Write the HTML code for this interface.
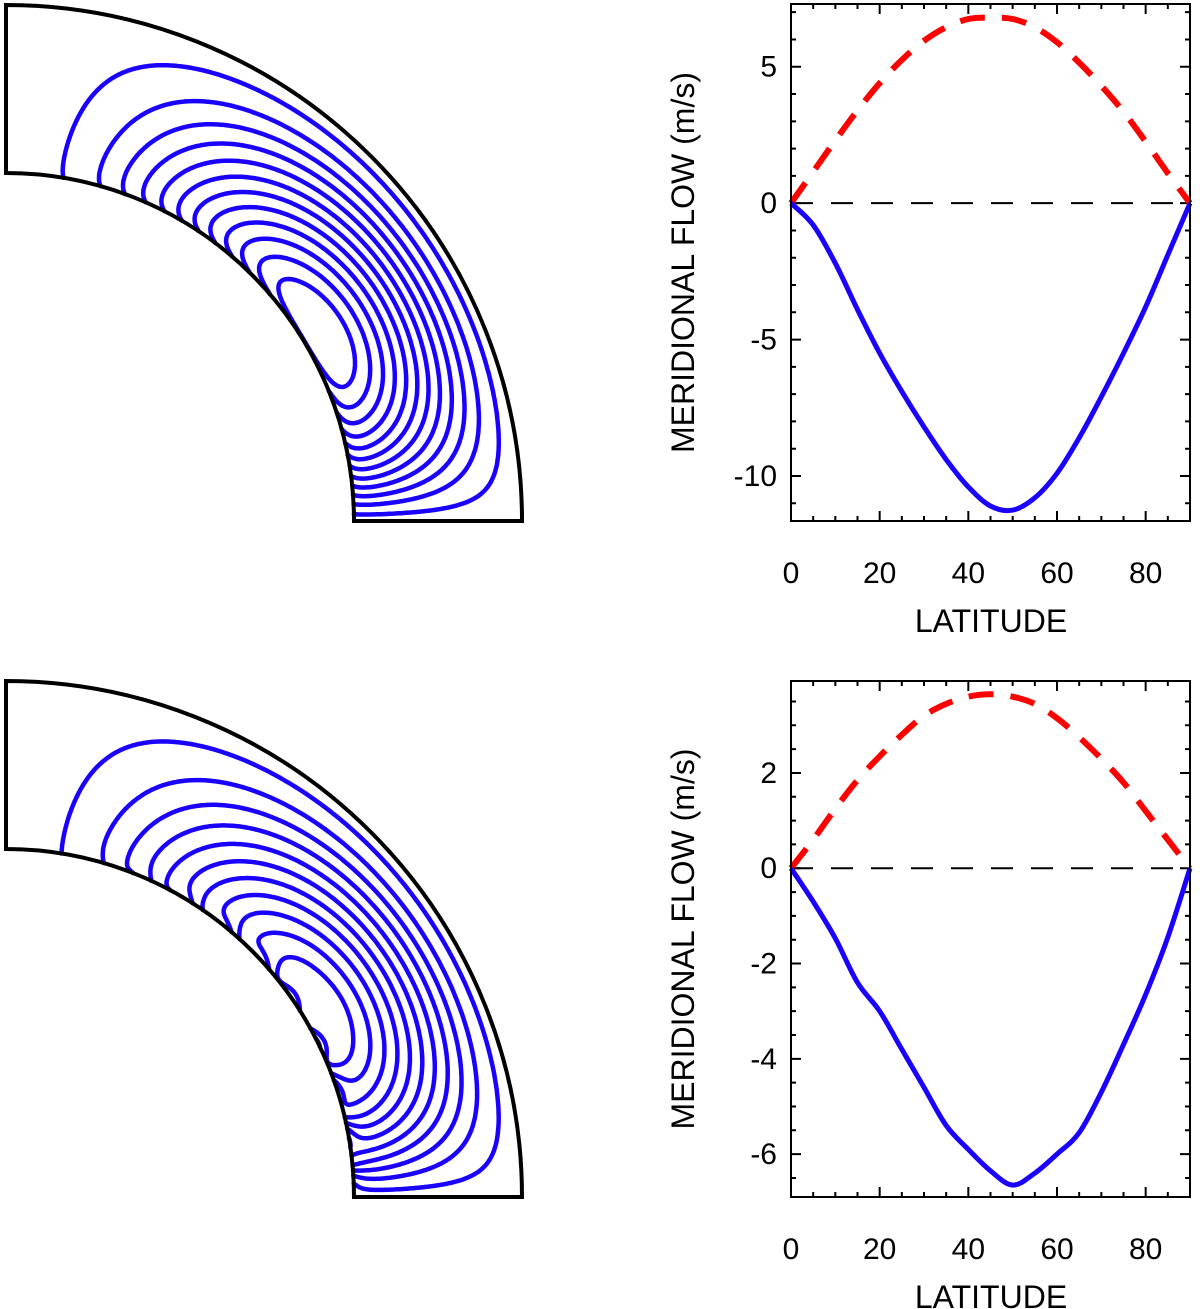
<!DOCTYPE html>
<html><head><meta charset="utf-8"><style>
html,body{margin:0;padding:0;background:#fff;}
svg{display:block;font-family:"Liberation Sans",Arial,sans-serif;}
</style></head><body>
<svg id="fig" width="1200" height="1309" viewBox="0 0 1200 1309" xmlns="http://www.w3.org/2000/svg">
<g id="g-top-cont"></g>
<g id="g-bot-cont"></g>
<g id="g-top-plot"></g>
<g id="g-bot-plot"></g>
</svg>
<script>
// ---- chart data ----
const latitudes = [0,5,10,15,20,25,30,35,40,45,50,55,60,65,70,75,80,85,90];
const topSurface = [0,1.15,2.3,3.4,4.4,5.25,5.95,6.45,6.75,6.8,6.75,6.45,5.9,5.15,4.3,3.35,2.25,1.1,0];
const topDeep = [0,-0.8,-2.2,-3.9,-5.5,-6.9,-8.2,-9.4,-10.4,-11.1,-11.25,-10.8,-9.9,-8.6,-7.1,-5.5,-3.8,-1.9,0];
const botSurface = [0,0.6,1.25,1.85,2.35,2.8,3.2,3.45,3.6,3.65,3.6,3.45,3.15,2.75,2.3,1.8,1.2,0.6,0];
const botDeep = [0,-0.7,-1.47,-2.4,-3.0,-3.8,-4.6,-5.4,-5.9,-6.35,-6.65,-6.4,-6.0,-5.55,-4.7,-3.7,-2.65,-1.45,0];
const xTicks = [0,20,40,60,80];
const topYTicks = [5,0,-5,-10];
const botYTicks = [2,0,-2,-4,-6];

const NS='http://www.w3.org/2000/svg';
function mk(tag, attrs, parent){const e=document.createElementNS(NS,tag);for(const k in attrs)e.setAttribute(k,attrs[k]);parent.appendChild(e);return e;}

function drawPlot(g, y0px, y1px, ymin, ymax, majorY, minorY, yTicks, surf, deep){
  const x0=791, x1=1190;
  const X=v=>x0+(v-0)/(90-0)*(x1-x0);
  const Y=v=>y1px-(v-ymin)/(ymax-ymin)*(y1px-y0px);
  let t='';
  for(let v=0;v<=90;v+=5){const L=(v%20===0)?10:5;const px=X(v);t+=`M${px},${y1px}v${-L}M${px},${y0px}v${L}`;}
  const start=Math.ceil(ymin/minorY)*minorY;
  for(let v=start;v<=ymax+1e-9;v+=minorY){const isMaj=Math.abs(v/majorY-Math.round(v/majorY))<1e-6;const L=isMaj?10:5;const py=Y(v);t+=`M${x0},${py}h${L}M${x1},${py}h${-L}`;}
  const ticks=mk('path',{d:t,stroke:'#000','stroke-width':2,fill:'none'},g);
  
  
  const z=mk('line',{x1:x0,x2:x1,y1:Y(0),y2:Y(0),stroke:'#000','stroke-width':2,'stroke-dasharray':'22,18'},g);
  
  
  const smooth=arr=>{let d='M'+X(latitudes[0])+','+Y(arr[0]);for(let i=0;i<latitudes.length-1;i++){const a=Math.max(i-1,0),b=Math.min(i+2,latitudes.length-1);const p0=[X(latitudes[a]),Y(arr[a])],p1=[X(latitudes[i]),Y(arr[i])],p2=[X(latitudes[i+1]),Y(arr[i+1])],p3=[X(latitudes[b]),Y(arr[b])];d+=`C${(p1[0]+(p2[0]-p0[0])/6).toFixed(1)},${(p1[1]+(p2[1]-p0[1])/6).toFixed(1)} ${(p2[0]-(p3[0]-p1[0])/6).toFixed(1)},${(p2[1]-(p3[1]-p1[1])/6).toFixed(1)} ${p2[0].toFixed(1)},${p2[1].toFixed(1)}`;}return d;};
  const s=mk('path',{d:smooth(surf),stroke:'#ff0000','stroke-width':6,fill:'none','stroke-dasharray':'25,17'},g);
  
  
  const d=mk('path',{d:smooth(deep),stroke:'#1a00ff','stroke-width':5,fill:'none'},g);
  
  
  const f=mk('rect',{x:x0,y:y0px,width:x1-x0,height:y1px-y0px,fill:'none',stroke:'#000','stroke-width':2},g);
  
  
  xTicks.forEach(v=>{const e=mk('text',{x:X(v),y:y1px+62,'font-size':30,'text-anchor':'middle'},g);e.textContent=v;
    
    });
  yTicks.forEach(v=>{const e=mk('text',{x:777,y:Y(v)+10,'font-size':30,'text-anchor':'end'},g);e.textContent=v;
    
    });
  const xt=mk('text',{x:991,y:y1px+111,'font-size':32,'text-anchor':'middle'},g);xt.textContent='LATITUDE';
  
  
  const cyT=(y0px+y1px)/2;
  const yt=mk('text',{x:0,y:0,'font-size':32,'text-anchor':'middle',transform:`translate(694,${cyT}) rotate(-90)`},g);yt.textContent='MERIDIONAL FLOW (m/s)';
  
  
}
drawPlot(document.getElementById('g-top-plot'),4,521,-11.65,7.3,5,1,topYTicks,topSurface,topDeep);
drawPlot(document.getElementById('g-bot-plot'),681,1197,-6.9,3.93,2,0.5,botYTicks,botSurface,botDeep);

// ---- streamline panels ----
function drawAnnulus(g, cx, cy, wig){
  const rin=348, R=516;
  const map=(x,u)=>{const r=rin+x*(R-rin),t=u*Math.PI/2;return [cx+r*Math.sin(t),cy-r*Math.cos(t)];};
  const psi=(x,u)=>{
    let P=Math.pow(u,1.8)*Math.pow(Math.max(1-u,0),0.94);
    let Q=(1-x)*Math.pow(x+0.05,0.167);
    let v=P*Q;
    if(wig){v+=0.009*Math.sin(u*Math.PI*22)*Math.exp(-x/0.05)*u;}
    return v;
  };
  const NX=110,NU=180;
  const vals=[];
  for(let i=0;i<=NX;i++){vals[i]=[];for(let j=0;j<=NU;j++)vals[i][j]=psi(i/NX,j/NU);}
  const mx=psi(0.1,0.66);
  const nL=wig?11:12;
  let d='';
  for(let k=0;k<nL;k++){
    const L=mx*(0.085+0.845*Math.pow(k/(nL-1),0.85));
    for(let i=0;i<NX;i++)for(let j=0;j<NU;j++){
      const c=[[i,j],[i+1,j],[i+1,j+1],[i,j+1]];
      const v=c.map(p=>vals[p[0]][p[1]]);
      const pts=[];
      for(let e=0;e<4;e++){const a=v[e],b=v[(e+1)%4];
        if((a-L)*(b-L)<0){const t=(L-a)/(b-a);const p=c[e],q=c[(e+1)%4];pts.push(map((p[0]+t*(q[0]-p[0]))/NX,(p[1]+t*(q[1]-p[1]))/NU));}}
      for(let m=0;m+1<pts.length;m+=2)d+=`M${pts[m][0].toFixed(1)},${pts[m][1].toFixed(1)}L${pts[m+1][0].toFixed(1)},${pts[m+1][1].toFixed(1)}`;
    }
  }
  const c=mk('path',{d:d,stroke:'#1a00ff','stroke-width':4.5,fill:'none','stroke-linecap':'round'},g);
  
  
  const o=mk('path',{d:`M${cx},${cy-rin}L${cx},${cy-R}A${R},${R} 0 0 1 ${cx+R},${cy}L${cx+rin},${cy}A${rin},${rin} 0 0 0 ${cx},${cy-rin}Z`,fill:'none',stroke:'#000','stroke-width':4},g);
  
  
}
drawAnnulus(document.getElementById('g-top-cont'),6,521,false);
drawAnnulus(document.getElementById('g-bot-cont'),6,1197,true);
</script>
</body></html>
